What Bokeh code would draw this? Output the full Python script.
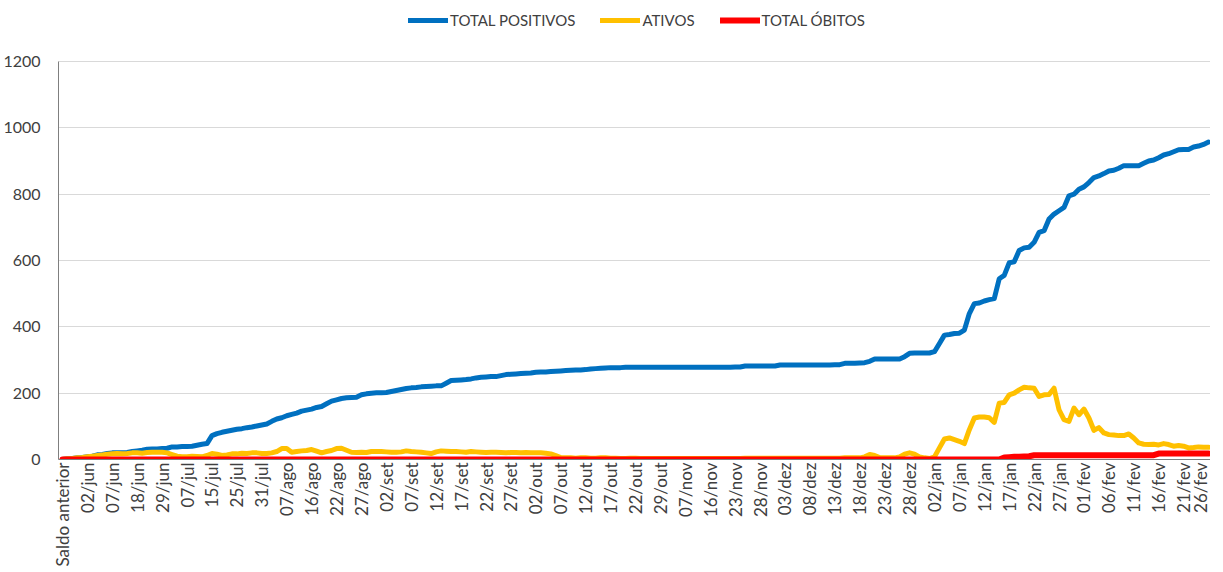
from bokeh.plotting import figure
from bokeh.models import FixedTicker, Legend, LegendItem, ColumnDataSource
from bokeh.embed import file_html
from bokeh.resources import INLINE
import math

tick_labels = ["Saldo anterior", "02/jun", "07/jun", "18/jun", "29/jun", "07/jul", "15/jul", "25/jul",
               "31/jul", "07/ago", "16/ago", "22/ago", "27/ago", "02/set", "07/set", "12/set", "17/set",
               "22/set", "27/set", "02/out", "07/out", "12/out", "17/out", "22/out", "29/out", "07/nov",
               "16/nov", "23/nov", "28/nov", "03/dez", "08/dez", "13/dez", "18/dez", "23/dez", "28/dez",
               "02/jan", "07/jan", "12/jan", "17/jan", "22/jan", "27/jan", "01/fev", "06/fev", "11/fev",
               "16/fev", "21/fev", "26/fev"]

y_ticks = [0, 200, 400, 600, 800, 1000, 1200]

total_positivos = [
    0, 2, 3, 5, 6, 8, 10, 14, 15, 18, 20, 20, 20, 21, 24, 26, 28, 31, 32, 32,
    33, 34, 38, 38, 39, 39, 40, 43, 46, 48, 72, 78, 82, 85, 88, 91, 93, 96, 98, 101,
    104, 107, 115, 122, 126, 132, 136, 140, 146, 149, 152, 157, 160, 168, 176, 180, 184, 186, 187, 188,
    195, 198, 200, 201, 201, 202, 205, 208, 211, 214, 216, 217, 219, 220, 221, 222, 222, 230, 238, 239,
    240, 241, 243, 246, 248, 249, 250, 250, 253, 256, 257, 258, 259, 260, 261, 263, 264, 264, 265, 266,
    267, 268, 269, 270, 270, 271, 273, 274, 275, 276, 277, 277, 277, 278, 278, 278, 278, 278, 278, 278,
    278, 278, 278, 278, 278, 278, 278, 278, 278, 278, 278, 278, 278, 278, 278, 279, 279, 282, 282, 282,
    282, 282, 282, 282, 285, 285, 285, 285, 285, 285, 285, 285, 285, 285, 285, 286, 286, 290, 290, 290,
    291, 292, 296, 303, 303, 303, 303, 303, 303, 310, 320, 321, 321, 321, 321, 325, 350, 375, 377, 380,
    381, 390, 440, 470, 472, 478, 482, 485, 545, 555, 593, 596, 630, 638, 640, 655, 685, 690, 725, 740,
    750, 760, 795, 800, 815, 822, 835, 850, 855, 862, 870, 872, 878, 886, 886, 886, 886, 893, 900, 903,
    910, 918, 922, 928, 934, 935, 935, 942, 945, 950, 957]

ativos = [
    0, 2, 3, 5, 6, 8, 10, 12, 14, 16, 17, 18, 17, 18, 20, 20, 19, 21, 22, 22,
    22, 20, 15, 10, 8, 8, 10, 9, 8, 12, 18, 16, 12, 14, 17, 17, 19, 18, 20, 20,
    18, 18, 20, 24, 33, 33, 22, 24, 26, 27, 30, 25, 20, 24, 27, 33, 34, 28, 22, 21,
    22, 21, 24, 24, 24, 23, 22, 22, 23, 26, 24, 23, 22, 20, 18, 23, 26, 25, 24, 24,
    23, 22, 24, 23, 22, 21, 22, 22, 21, 20, 21, 21, 20, 21, 20, 20, 20, 19, 17, 12,
    6, 5, 5, 4, 5, 5, 4, 4, 5, 5, 4, 4, 3, 3, 4, 4, 3, 3, 3, 3,
    3, 3, 3, 3, 3, 3, 3, 3, 3, 3, 3, 3, 3, 3, 3, 3, 3, 4, 4, 4,
    4, 4, 4, 4, 4, 4, 4, 4, 4, 4, 4, 4, 4, 4, 4, 4, 4, 5, 5, 5,
    5, 8, 15, 12, 6, 5, 5, 5, 8, 16, 20, 16, 8, 5, 3, 8, 35, 62, 65, 60,
    55, 48, 90, 125, 128, 128, 126, 112, 170, 172, 195, 200, 210, 218, 216, 215, 190, 195, 196, 215,
    150, 120, 115, 155, 135, 152, 125, 88, 96, 80, 75, 74, 72, 72, 77, 65, 50, 46, 45, 46,
    44, 48, 45, 40, 42, 40, 35, 36, 38, 37, 37]

total_obitos = [0] * 189 + [6, 7, 8, 8, 9, 10] + [13] * 25 + [18] * 11

n = len(total_positivos)
x = list(range(n))

# frame spans page y 5..459; 0..1200 occupies the lower 398 px, legend sits above 1200
frame_h = 454
y_top = 1200 * frame_h / 398.0

p = figure(width=1210, height=572, output_backend="svg", toolbar_location=None,
           x_range=(-0.8, n - 1 + 0.4), y_range=(0, y_top),
           min_border_left=57, min_border_right=0, min_border_top=5, min_border_bottom=113)
p.outline_line_color = None
p.background_fill_color = "white"
p.border_fill_color = "white"

src = ColumnDataSource(dict(x=x, pos=total_positivos, at=ativos, ob=total_obitos))
r1 = p.line("x", "pos", source=src, line_color="#0070C0", line_width=5, line_join="round", line_cap="round")
r2 = p.line("x", "at", source=src, line_color="#FFC000", line_width=5, line_join="round", line_cap="round")
r3 = p.line("x", "ob", source=src, line_color="#FF0000", line_width=6, line_join="round", line_cap="round")

font = "Lato"
p.xgrid.grid_line_color = None
p.ygrid.grid_line_color = "#d9d9d9"
p.ygrid.grid_line_width = 1

p.yaxis.ticker = FixedTicker(ticks=y_ticks)
p.yaxis.bounds = (0, 1200)
p.yaxis.major_tick_line_color = None
p.yaxis.major_tick_out = 0
p.yaxis.major_tick_in = 0
p.yaxis.minor_tick_line_color = None
p.yaxis.axis_line_color = "#7f7f7f"
p.yaxis.major_label_text_font = font
p.yaxis.major_label_text_font_size = "16px"
p.yaxis.major_label_text_color = "#404040"
p.yaxis.major_label_standoff = 18

p.xaxis.ticker = FixedTicker(ticks=list(range(0, n, 5)))
p.xaxis.major_label_overrides = {i * 5: lab for i, lab in enumerate(tick_labels)}
p.xaxis.major_label_orientation = math.pi / 2
p.xaxis.major_tick_line_color = None
p.xaxis.major_tick_out = 0
p.xaxis.major_tick_in = 0
p.xaxis.minor_tick_line_color = None
p.xaxis.axis_line_color = "#7f7f7f"
p.xaxis.major_label_text_font = font
p.xaxis.major_label_text_font_size = "17px"
p.xaxis.major_label_text_color = "#404040"
p.xaxis.major_label_standoff = 3

legend = Legend(items=[LegendItem(label="TOTAL POSITIVOS", renderers=[r1]),
                       LegendItem(label="ATIVOS", renderers=[r2]),
                       LegendItem(label="TOTAL ÓBITOS", renderers=[r3])],
                orientation="horizontal", location=(350, 430),
                border_line_color=None, background_fill_alpha=0,
                label_text_font=font, label_text_font_size="15px", label_text_color="#404040",
                glyph_width=40, glyph_height=16, label_height=16, label_standoff=2,
                spacing=25, padding=0, margin=0)
p.add_layout(legend, "center")

open("out.html", "w").write(file_html(p, INLINE))
